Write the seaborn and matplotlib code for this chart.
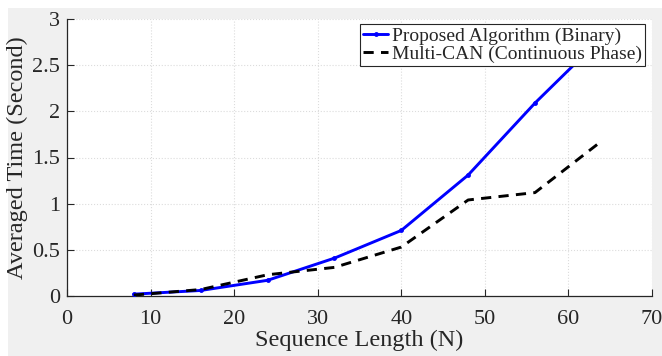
import matplotlib
matplotlib.use("Agg")
import matplotlib.pyplot as plt
import seaborn as sns
import pandas as pd
from matplotlib.patches import Rectangle

# Data
seq_len = [8, 16, 24, 32, 40, 48, 56, 64]
proposed = [0.02, 0.06, 0.17, 0.41, 0.71, 1.31, 2.09, 2.80]
multican = [0.01, 0.07, 0.23, 0.31, 0.53, 1.04, 1.12, 1.68]
x_ticks = [0, 10, 20, 30, 40, 50, 60, 70]
y_ticks = [0, 0.5, 1, 1.5, 2, 2.5, 3]
y_tick_labels = ["0", "0.5", "1", "1.5", "2", "2.5", "3"]
label_a = "Proposed Algorithm (Binary)"
label_b = "Multi-CAN (Continuous Phase)"

sns.set_style("ticks")
plt.rcParams["font.family"] = ["Liberation Serif", "DejaVu Serif"]
plt.rcParams["mathtext.fontset"] = "stix"

fig = plt.figure(figsize=(6.62, 3.56), dpi=100, facecolor="white")
fig.patches.append(Rectangle((8 / 662, 0), 1, 1 - 8 / 356, transform=fig.transFigure,
                             facecolor="#f0f0f0", edgecolor="none", zorder=-10))
ax = fig.add_axes([67 / 662, 1 - 296 / 356, (652 - 67) / 662, (296 - 19) / 356])
ax.set_facecolor("white")

df_a = pd.DataFrame({"N": seq_len, "T": proposed})
df_b = pd.DataFrame({"N": seq_len, "T": multican})
sns.lineplot(data=df_a, x="N", y="T", ax=ax, color="#0000ff", linewidth=2.1,
             marker=".", markersize=7, markeredgewidth=0, label=label_a, zorder=3)
sns.lineplot(data=df_b, x="N", y="T", ax=ax, color="black", linewidth=2.1,
             dashes=False, linestyle=(0, (3.5, 2.5)), label=label_b, zorder=3)

ax.set_xlim(0, 70)
ax.set_ylim(0, 3)
ax.set_xticks(x_ticks)
ax.set_yticks(y_ticks)
ax.set_yticklabels(y_tick_labels)
ax.tick_params(direction="in", length=5, width=0.8, labelsize=16, colors="#262626")
ax.tick_params(axis="x", pad=10)
ax.tick_params(axis="y", pad=5)
ax.grid(True, color="#dcdcdc", linestyle=":", linewidth=0.8)
for s in ["top", "right"]:
    ax.spines[s].set_visible(False)
for s in ["left", "bottom"]:
    ax.spines[s].set_color("#262626")
    ax.spines[s].set_linewidth(0.9)

ax.set_xlabel("Sequence Length (N)", fontsize=17.5, color="#262626", labelpad=1)
ax.set_ylabel("Averaged Time (Second)", fontsize=17.5, color="#262626", labelpad=3)

leg = ax.legend(loc="upper right", bbox_to_anchor=(0.988, 0.982), fontsize=14,
                frameon=True, fancybox=False, framealpha=1, edgecolor="#262626",
                handlelength=1.3, handletextpad=0.2, borderpad=0.15,
                labelspacing=0.05, borderaxespad=0)
leg.get_frame().set_linewidth(0.8)

fig.savefig("out.png", dpi=100, facecolor=fig.get_facecolor())
